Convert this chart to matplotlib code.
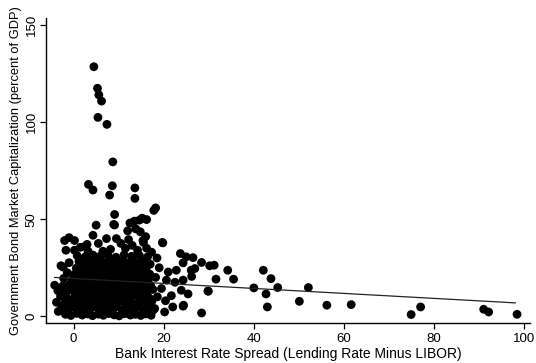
import matplotlib.pyplot as plt

plt.rcParams['font.family'] = ['Liberation Sans', 'DejaVu Sans']

# country-year observations: bank spread vs. government bond market size
spread = [
    # bottom rows of the dense cluster
    -3.4, -1.8, -0.6, 0.7, 1.9, 3.1, 4.2, 5.5, 6.6, 7.8, 9.0, 10.1, 11.3, 12.6, 13.7, 14.9, 16.0, 17.2,
    -2.6, -1.2, 0.1, 1.3, 2.5, 3.7, 4.8, 6.0, 7.2, 8.3, 9.5, 10.7, 11.8, 13.0, 14.2, 15.4, 16.6, 17.7,
    -3.8, -2.0, -0.5, 0.8, 2.0, 3.3, 4.5, 5.7, 6.9, 8.0, 9.2, 10.4, 11.5, 12.7, 13.9, 15.1, 16.3, 17.4,
    -2.9, -1.5, 0.3, 1.5, 2.7, 3.9, 5.1, 6.3, 7.4, 8.6, 9.8, 11.0, 12.1, 13.3, 14.5, 15.7, 16.8,
    -3.5, -1.9, -0.7, 0.9, 2.1, 3.3, 4.6, 5.8, 7.0, 8.1, 9.3, 10.5, 11.6, 12.8, 14.0, 15.2, 16.4, 17.6,
    -4.2, -2.4, -0.9, 0.4, 1.6, 2.8, 4.0, 5.2, 6.4, 7.6, 8.8, 9.9, 11.1, 12.3, 13.5, 14.7, 15.9, 17.1,
    -2.2, -0.3, 1.0, 2.2, 3.4, 4.6, 5.9, 7.1, 8.3, 9.5, 10.6, 11.8, 13.0, 14.2, 15.4, 16.6,
    -1.4, 0.2, 1.4, 2.6, 3.8, 5.0, 6.2, 7.4, 8.6, 9.8, 10.9, 12.1, 13.3, 14.5, 15.7, 16.9,
    -2.3, 0.6, 1.8, 3.0, 4.2, 5.4, 6.6, 7.8, 9.0, 10.2, 11.4, 12.6, 13.8, 15.0, 16.2,
    -1.0, 1.2, 2.4, 3.6, 4.9, 6.1, 7.3, 8.5, 9.7, 10.9, 12.1, 13.3, 14.5, 15.8, 17.0,
    0.8, 2.6, 4.3, 5.8, 7.6, 9.4, 11.2, 12.9, 14.6, 16.4,
    # upper edge of the cluster
    -2.0, -1.0, 0.2, -1.7, 0.2, -2.8, 2.5, 3.2, 4.3, 5.5, 7.3, 9.5, 10.5, 8.2, 11.5, 13.0,
    14.2, 15.5, 16.2, 17.3, 12.2, 13.8, 12.5, 13.5, 14.6, 15.2, 16.2, 17.8, 18.2, 12.0, 14.8,
    16.0, 15.4, 19.7, 18.5, 19.0, 18.2, 18.6, 18.0, 6.5, 1.5, 3.0,
    # high outliers
    4.5, 5.3, 5.6, 6.2, 5.4, 7.4, 8.7, 8.6, 8.0, 3.3, 4.3, 13.6, 13.6, 9.1, 8.9, 5.0, 9.1,
    # moderate spreads
    19.8, 23.7, 25.0, 26.5, 24.3, 28.4, 30.2, 21.0, 22.8, 26.1, 20.6, 22.5, 24.3, 26.2,
    31.6, 29.8, 23.9, 25.4, 21.7, 24.3, 22.0, 20.2, 28.4, 20.4, 19.5, 26.9, 24.4,
    31.2, 34.2, 35.5, 29.9,
    # high spreads
    42.1, 43.8, 40.0, 45.3, 42.7, 43.0, 50.1, 52.1, 56.2, 61.6, 74.9, 77.0, 91.0, 92.1, 98.4,
]

bond_cap = [
    2.5, 1.0, 0.4, 1.5, 0.6, 1.2, 0.3, 1.1, 0.5, 1.4, 0.7, 0.2, 1.3, 0.6, 1.0, 0.4, 1.2, 0.5,
    4.5, 3.8, 4.6, 3.5, 4.3, 3.9, 4.8, 3.6, 4.4, 3.7, 4.9, 3.4, 4.2, 3.9, 4.7, 3.5, 4.3, 3.2,
    7.2, 6.5, 7.4, 6.8, 7.6, 6.6, 7.3, 6.9, 7.7, 6.4, 7.1, 7.8, 6.7, 7.3, 6.5, 7.5, 6.8, 7.9,
    10.3, 9.6, 10.8, 9.8, 10.5, 9.5, 10.7, 9.9, 10.4, 9.7, 10.9, 9.6, 10.2, 10.8, 9.8, 10.5, 9.4,
    13.2, 12.6, 13.6, 12.9, 13.8, 12.7, 13.4, 12.8, 13.7, 12.5, 13.3, 13.9, 12.6, 13.5, 12.9, 13.6, 12.7, 13.8,
    16.0, 15.6, 16.4, 15.9, 16.7, 15.5, 16.3, 15.8, 16.6, 15.7, 16.2, 15.4, 16.8, 15.9, 16.5, 15.6, 16.4, 15.8,
    19.5, 18.8, 19.7, 18.6, 19.4, 18.9, 19.8, 18.7, 19.3, 18.5, 19.6, 18.9, 19.5, 18.7, 19.8, 18.8,
    22.4, 21.6, 22.7, 21.9, 22.5, 21.7, 22.8, 21.8, 22.3, 21.5, 22.6, 21.9, 22.7, 21.6, 22.4, 21.7,
    25.3, 24.8, 25.6, 24.6, 25.4, 24.9, 25.7, 24.7, 25.2, 24.5, 25.8, 24.8, 25.5, 24.6, 25.3,
    27.6, 28.2, 27.5, 28.4, 27.8, 28.6, 27.4, 28.3, 27.7, 28.5, 27.6, 28.1, 27.3, 28.4, 26.8,
    31.2, 30.6, 31.5, 30.8, 31.4, 30.4, 31.6, 30.9, 31.3, 30.5,
    39.0, 40.5, 39.0, 34.0, 34.0, 26.0, 36.0, 33.5, 41.7, 37.5, 40.0, 40.0, 37.5, 34.5, 35.0, 36.5,
    34.0, 38.0, 35.0, 33.0, 39.5, 45.0, 48.0, 49.0, 49.5, 50.5, 49.8, 54.5, 55.8, 44.0, 43.5,
    41.0, 39.0, 38.0, 30.0, 25.0, 20.0, 10.0, 4.0, 33.5, 35.5, 37.0,
    128.5, 117.4, 114.0, 110.8, 102.4, 98.8, 79.5, 67.2, 62.4, 67.9, 65.0, 66.1, 60.7, 52.4, 47.3, 46.9, 47.0,
    37.8, 32.3, 30.6, 30.2, 27.5, 27.7, 26.0, 22.8, 23.7, 23.7, 18.6, 17.5, 18.6, 20.5,
    19.1, 13.0, 13.4, 11.5, 10.6, 5.2, 4.8, 2.2, 1.7, 8.0, 14.3, 24.6, 5.7,
    26.3, 23.7, 19.1, 12.9,
    23.7, 19.4, 14.6, 14.8, 11.5, 4.8, 7.7, 14.8, 5.7, 6.0, 0.9, 4.8, 3.6, 2.2, 1.0,
]

# fitted regression line (end points)
fit_x = [-4.2, 98.0]
fit_y = [20.0, 6.9]

fig = plt.figure(figsize=(5.36, 3.63), dpi=100)
ax = fig.add_axes([0.086, 0.110, 0.903, 0.840])

ax.scatter(spread, bond_cap, s=40, color='black', edgecolors='none', zorder=2)
ax.plot(fit_x, fit_y, color='#222222', lw=0.9, zorder=3)

ax.set_xlim(-6.1, 101.3)
ax.set_ylim(-3.5, 153.5)
ax.set_xticks([0, 20, 40, 60, 80, 100])
ax.set_yticks([0, 50, 100, 150])
ax.tick_params(axis='both', direction='out', length=4, width=0.9, labelsize=9.5, colors='black')
ax.tick_params(axis='y', labelrotation=90, pad=2)
for lab in ax.get_yticklabels():
    lab.set_va('center')

for side in ['top', 'right']:
    ax.spines[side].set_visible(False)
for side in ['left', 'bottom']:
    ax.spines[side].set_linewidth(1.0)

ax.set_xlabel('Bank Interest Rate Spread (Lending Rate Minus LIBOR)', fontsize=10, labelpad=1)
ax.set_ylabel('Government Bond Market Capitalization (percent of GDP)', fontsize=9.3, labelpad=3)

fig.savefig('out.png', dpi=100)
